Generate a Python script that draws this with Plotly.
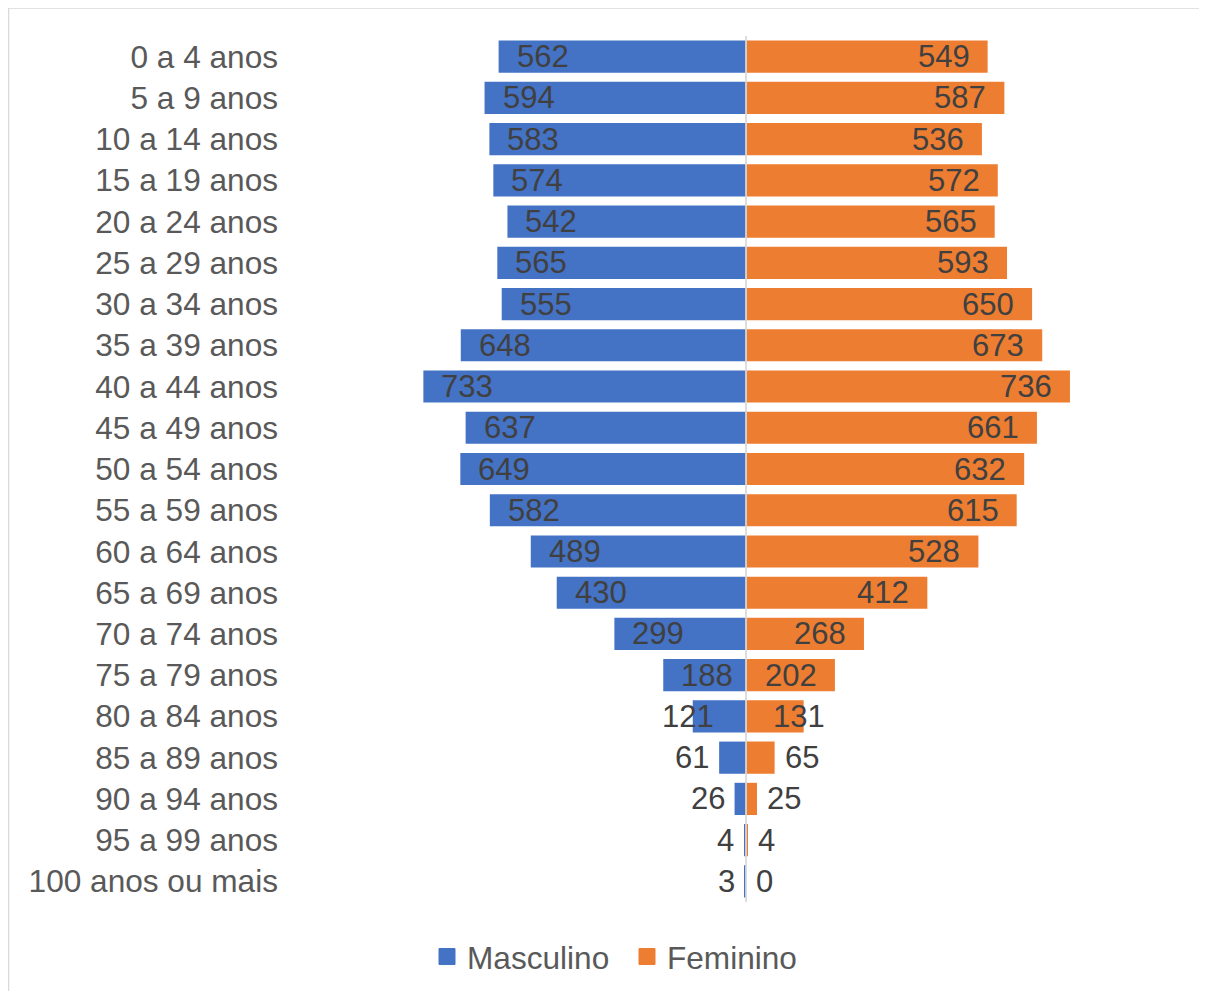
import plotly.graph_objects as go

categories = ["0 a 4 anos", "5 a 9 anos", "10 a 14 anos", "15 a 19 anos", "20 a 24 anos",
              "25 a 29 anos", "30 a 34 anos", "35 a 39 anos", "40 a 44 anos", "45 a 49 anos",
              "50 a 54 anos", "55 a 59 anos", "60 a 64 anos", "65 a 69 anos", "70 a 74 anos",
              "75 a 79 anos", "80 a 84 anos", "85 a 89 anos", "90 a 94 anos", "95 a 99 anos",
              "100 anos ou mais"]
masculino = [562, 594, 583, 574, 542, 565, 555, 648, 733, 637, 649, 582, 489, 430, 299, 188, 121, 61, 26, 4, 3]
feminino = [549, 587, 536, 572, 565, 593, 650, 673, 736, 661, 632, 615, 528, 412, 268, 202, 131, 65, 25, 4, 0]

BLUE = "#4472C4"
ORANGE = "#ED7D31"
FONT = "Liberation Sans, Arial, sans-serif"
FS = 31
FS_CAT = 31.6

W, H = 1207, 991
ML, MR, MT, MB = 282, 13, 28, 97
XR = 1036
plot_w = W - ML - MR
plot_h = H - MT - MB
scale = plot_w / (2 * XR)

fig = go.Figure()
fig.add_trace(go.Bar(y=categories, x=[-v for v in masculino], orientation="h",
                     marker=dict(color=BLUE, line=dict(width=0)), showlegend=False,
                     hoverinfo="skip"))
fig.add_trace(go.Bar(y=categories, x=feminino, orientation="h",
                     marker=dict(color=ORANGE, line=dict(width=0)), showlegend=False,
                     hoverinfo="skip"))
# legend entries
fig.add_trace(go.Scatter(x=[None], y=[None], mode="markers", name="Masculino",
                         marker=dict(symbol="square", size=16, color=BLUE,
                                     line=dict(width=1, color=BLUE))))
fig.add_trace(go.Scatter(x=[None], y=[None], mode="markers", name="Feminino",
                         marker=dict(symbol="square", size=16, color=ORANGE,
                                     line=dict(width=1, color=ORANGE))))

annotations = []
PAD = 16
GAP = 8
for cat, m, f in zip(categories, masculino, feminino):
    for v, sign in ((m, -1), (f, 1)):
        txt = str(v)
        tw = len(txt) * 0.556 * FS
        blen = v * scale
        if blen >= tw + PAD + 8:
            xanchor = "left" if sign < 0 else "right"
            xshift = PAD * (1 if sign < 0 else -1)
        elif blen >= tw * 0.9:
            xanchor = "center"
            xshift = -5
        else:
            xanchor = "right" if sign < 0 else "left"
            xshift = GAP * (-1 if sign < 0 else 1)
        annotations.append(dict(x=sign * v, y=cat, xref="x", yref="y", text=txt,
                                showarrow=False, xanchor=xanchor, yanchor="middle",
                                xshift=xshift,
                                font=dict(family=FONT, size=FS, color="#404040")))

# chart border (left and top visible)
bx0 = (0.5 - ML) / plot_w
by1 = (H - MB - 0.0) / plot_h
fig.add_shape(type="rect", xref="paper", yref="paper", x0=bx0, x1=1.2, y0=-0.3, y1=by1,
              line=dict(color="#D9D9D9", width=1.5), fillcolor="rgba(0,0,0,0)", layer="below")
# center axis line
fig.add_shape(type="line", xref="x", yref="paper", x0=0, x1=0, y0=0, y1=1,
              line=dict(color="#D9D9D9", width=1.75), layer="above")

fig.update_layout(
    width=W, height=H,
    margin=dict(l=ML, r=MR, t=MT, b=MB, pad=0),
    paper_bgcolor="white", plot_bgcolor="white",
    barmode="relative", bargap=0.22,
    annotations=annotations,
    legend=dict(orientation="h", x=(619 - ML) / plot_w, xanchor="center",
                y=(H - MB - 949) / plot_h, yanchor="middle",
                entrywidth=155, entrywidthmode="pixels",
                font=dict(family=FONT, size=FS_CAT, color="#595959"),
                bgcolor="rgba(0,0,0,0)"),
    font=dict(family=FONT, size=FS_CAT, color="#595959"),
)
fig.update_xaxes(range=[-XR, XR], showticklabels=False, showgrid=False, zeroline=False,
                 showline=False, fixedrange=True)
fig.update_yaxes(categoryorder="array", categoryarray=categories, autorange="reversed",
                 showgrid=False, zeroline=False, showline=False, ticks="",
                 tickfont=dict(family=FONT, size=FS_CAT, color="#595959"), ticklabelstandoff=11)

fig.write_html("out.html")
